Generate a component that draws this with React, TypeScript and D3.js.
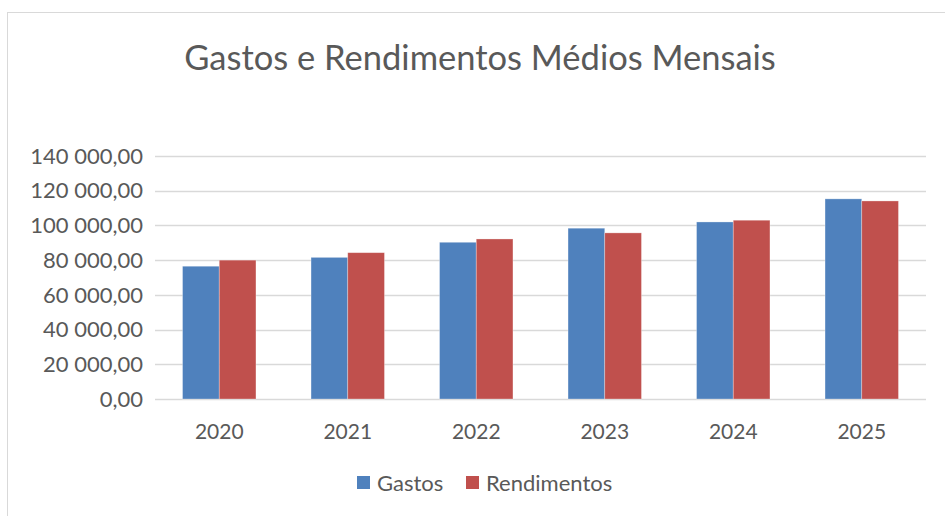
import React, { useEffect, useRef } from 'react';
import * as d3 from 'd3';

const years = ['2020', '2021', '2022', '2023', '2024', '2025'];
const gastos = [76500, 81600, 90300, 98400, 102000, 115300];
const rendimentos = [80000, 84300, 92200, 95700, 103000, 114100];
const yTicks = [0, 20000, 40000, 60000, 80000, 100000, 120000, 140000];
const seriesNames = ['Gastos', 'Rendimentos'];
const seriesColors = ['#4F81BD', '#C0504D'];

const W = 945;
const H = 516;
const FONT = 'Lato, "Open Sans", sans-serif';

const fmt = (v: number) => {
  // formato pt-PT: espaço como separador de milhares, vírgula decimal
  const s = v.toFixed(2).replace('.', ',');
  const [int, dec] = s.split(',');
  return int.replace(/\B(?=(\d{3})+(?!\d))/g, ' ') + ',' + dec;
};

const App: React.FC = () => {
  const ref = useRef<SVGSVGElement>(null);

  useEffect(() => {
    if (!ref.current) return;
    const svg = d3.select(ref.current);
    svg.selectAll('*').remove();

    // moldura do gráfico
    svg.append('rect')
      .attr('x', 7.5).attr('y', 12.5)
      .attr('width', W).attr('height', H)
      .attr('fill', '#fff')
      .attr('stroke', '#D9D9D9');

    const left = 155, right = 926, top = 156, bottom = 399;

    const x = d3.scaleBand<string>().domain(years).range([left, right]);
    const y = d3.scaleLinear().domain([0, 140000]).range([bottom, top]);
    const barW = x.bandwidth() / 3.5;

    // título
    svg.append('text')
      .attr('x', 480).attr('y', 70)
      .attr('text-anchor', 'middle')
      .attr('fill', '#595959')
      .style('font-family', FONT)
      .style('font-size', '34.5px')
      .text('Gastos e Rendimentos Médios Mensais');

    // linhas de grelha + rótulos do eixo y
    const g = svg.append('g');
    g.selectAll('.grid')
      .data(yTicks)
      .enter()
      .append('line')
      .attr('x1', left).attr('x2', right)
      .attr('y1', d => Math.round(y(d)) + 0.5)
      .attr('y2', d => Math.round(y(d)) + 0.5)
      .attr('stroke', '#D9D9D9')
      .attr('stroke-width', 1.5);

    g.selectAll('.ylab')
      .data(yTicks)
      .enter()
      .append('text')
      .attr('x', 143)
      .attr('y', d => y(d))
      .attr('dy', '0.35em')
      .attr('text-anchor', 'end')
      .attr('fill', '#595959')
      .style('font-family', FONT)
      .style('font-size', '22px')
      .text(d => fmt(d));

    // barras
    const series = [gastos, rendimentos];
    series.forEach((vals, si) => {
      svg.append('g')
        .selectAll('rect')
        .data(vals)
        .enter()
        .append('rect')
        .attr('x', (d, i) => (x(years[i]) as number) + x.bandwidth() / 2 - barW + si * barW)
        .attr('y', d => y(d))
        .attr('width', barW)
        .attr('height', d => bottom - y(d))
        .attr('fill', seriesColors[si])
        .attr('stroke', '#fff')
        .attr('stroke-opacity', 0.4)
        .attr('stroke-width', 0.75);
    });

    // rótulos do eixo x
    svg.append('g')
      .selectAll('text')
      .data(years)
      .enter()
      .append('text')
      .attr('x', d => (x(d) as number) + x.bandwidth() / 2)
      .attr('y', 432)
      .attr('dy', '0.35em')
      .attr('text-anchor', 'middle')
      .attr('fill', '#595959')
      .style('font-family', FONT)
      .style('font-size', '21px')
      .text(d => d);

    // legenda
    const legendX = [357, 466];
    const lg = svg.append('g');
    seriesNames.forEach((name, i) => {
      lg.append('rect')
        .attr('x', legendX[i]).attr('y', 476)
        .attr('width', 13).attr('height', 13)
        .attr('fill', seriesColors[i]);
      lg.append('text')
        .attr('x', legendX[i] + 20).attr('y', 483)
        .attr('dy', '0.35em')
        .attr('fill', '#595959')
        .style('font-family', FONT)
        .style('font-size', '22px')
        .text(name);
    });
  }, []);

  return (
    <svg
      ref={ref}
      width={W}
      height={H}
      style={{ position: 'absolute', left: 0, top: 0, display: 'block', background: '#fff' }}
    />
  );
};

export default App;
